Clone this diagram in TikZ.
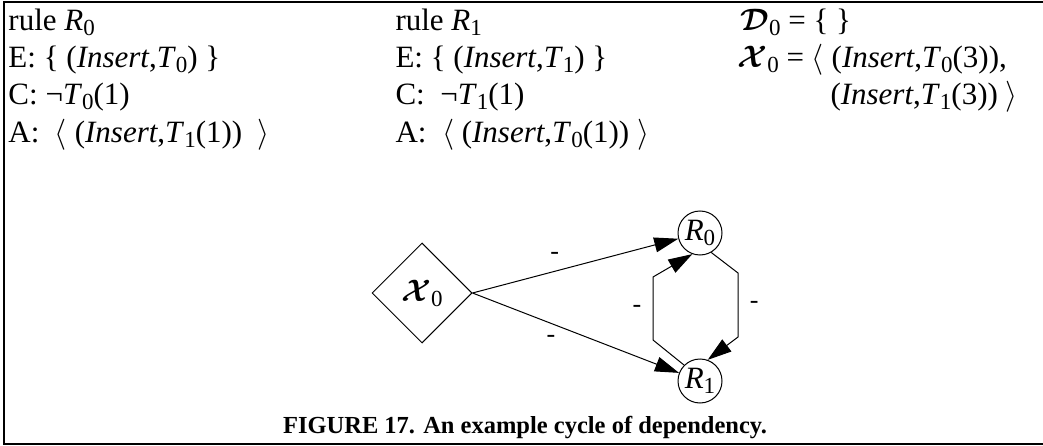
\documentclass[tikz,border=0pt]{standalone}
\usepackage{fix-cm}
\usepackage{amsmath,bm}
\usepackage{fontspec}
\setmainfont{Liberation Serif}
\usetikzlibrary{shapes.geometric,arrows.meta}
% lowered subscript in text
\newcommand\sbs[1]{\raisebox{-0.35ex}{\fontsize{23}{23}\selectfont #1}}
\newcommand\ix[2]{\textit{#1}\sbs{#2}}
\begin{document}
\begin{tikzpicture}[x=1pt,y=-1pt,font=\fontsize{31}{36}\selectfont,line width=1pt,
  txt/.style={anchor=base west,inner sep=0pt},
  rulenode/.style={circle,draw,minimum size=44pt,inner sep=0pt},
  edgemark/.style={font=\fontsize{26}{26}\selectfont\itshape},
  >={Triangle[length=24pt,width=15pt]}]
\useasboundingbox (0,0) rectangle (1043,446);
\draw[line width=2.5pt] (1043,2) -- (4,2) -- (4,444) -- (1043,444);
% rule R0
\node[txt] (r0name) at (8,31) {rule \ix{R}{0}};
\node[txt] (r0e) at (8,68) {E: \{ (\textit{Insert},\ix{T}{0}) \}};
\node[txt] (r0c) at (8,105) {C: ¬\ix{T}{0}(1)};
\node[txt] (r0a) at (8,143) {A: \ $\langle$ (\textit{Insert},\ix{T}{1}(1)) \ $\rangle$};
% rule R1
\node[txt] (r1name) at (395,31) {rule \ix{R}{1}};
\node[txt] (r1e) at (395,68) {E: \{ (\textit{Insert},\ix{T}{1}) \}};
\node[txt] (r1c) at (395,105) {C: \ ¬\ix{T}{1}(1)};
\node[txt] (r1a) at (395,143) {A: \ $\langle$ (\textit{Insert},\ix{T}{0}(1)) $\rangle$};
% initial state
\node[txt] (dset) at (740,31) {$\bm{\mathcal{D}}$\sbs{0} = \{ \}};
\node[txt] (xseq) at (737,68) {$\bm{\mathcal{X}}$\sbs{0} = $\langle$ (\textit{Insert},\ix{T}{0}(3)),};
\node[txt] (xseq2) at (830,105) {(\textit{Insert},\ix{T}{1}(3)) $\rangle$};
% graph
\node[diamond,draw,minimum size=100pt,inner sep=0pt] (x0) at (422,293) {$\bm{\mathcal{X}}$\sbs{0}};
\node[rulenode] (r0) at (700,233) {\ix{R}{0}};
\node[rulenode] (r1) at (700,381) {\ix{R}{1}};
\draw[->] (x0.east) -- node[edgemark,pos=0.4,above=8pt]{-} (r0);
\draw[->] (x0.east) -- node[edgemark,pos=0.38,below=8pt]{-} (r1);
\draw[->] (r1.135) -- (653,340) -- node[edgemark,left=8pt]{-} (653,277) -- (r0.250);
\draw[->] (r0.-60) -- (738,273) -- node[edgemark,right=8pt]{-} (738,337) -- (r1.70);
\node[font=\fontsize{24.5}{28}\selectfont\bfseries] (cap) at (525,428) {FIGURE 17. An example cycle of dependency.};
\end{tikzpicture}
\end{document}
